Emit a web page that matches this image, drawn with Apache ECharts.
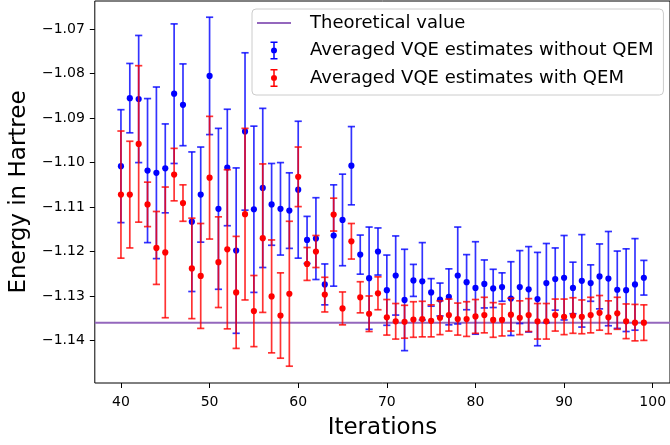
<!DOCTYPE html>
<html><head><meta charset="utf-8">
<script src="https://cdn.jsdelivr.net/npm/echarts@6/dist/echarts.min.js"></script>
<style>html,body{margin:0;padding:0;background:#fff}#c{width:670px;height:445px}</style>
</head><body><div id="c"></div>
<script>
const iterations = [40,41,42,43,44,45,46,47,48,49,50,51,52,53,54,55,56,57,58,59,60,61,62,63,64,65,66,67,68,69,70,71,72,73,74,75,76,77,78,79,80,81,82,83,84,85,86,87,88,89,90,91,92,93,94,95,96,97,98,99];
const blueMean = [
 -1.1008,-1.0855,-1.0857,-1.1018,-1.1023,-1.1013,-1.0845,-1.0870,-1.1133,-1.1072,
 -1.0805,-1.1104,-1.1011,-1.1198,-1.0930,-1.1105,-1.1057,-1.1094,-1.1104,-1.1108,
 -1.1061,-1.1174,-1.1171,-1.1274,-1.1164,-1.1129,-1.1007,-1.1207,-1.1260,-1.1200,
 -1.1287,-1.1254,-1.1309,-1.1265,-1.1267,-1.1292,-1.1308,-1.1302,-1.1254,-1.1269,
 -1.1282,-1.1273,-1.1283,-1.1280,-1.1306,-1.1280,-1.1285,-1.1307,-1.1271,-1.1262,
 -1.1259,-1.1282,-1.1266,-1.1271,-1.1256,-1.1261,-1.1286,-1.1287,-1.1274,-1.1259];
const blueErr = [
 0.0127,0.0078,0.0143,0.0162,0.0193,0.0100,0.0157,0.0092,0.0157,0.0107,
 0.0132,0.0181,0.0131,0.0186,0.0177,0.0187,0.0179,0.0092,0.0104,0.0085,
 0.0154,0.0053,0.0092,0.0046,0.0114,0.0103,0.0088,0.0044,0.0115,0.0053,
 0.0079,0.0089,0.0114,0.0036,0.0087,0.0031,0.0037,0.0063,0.0109,0.0062,
 0.0104,0.0054,0.0043,0.0032,0.0083,0.0082,0.0096,0.0105,0.0089,0.0070,
 0.0095,0.0058,0.0104,0.0041,0.0073,0.0106,0.0087,0.0093,0.0103,0.0039];
const redMean = [
 -1.1072,-1.1072,-1.0958,-1.1094,-1.1192,-1.1202,-1.1027,-1.1091,-1.1238,-1.1255,
 -1.1034,-1.1224,-1.1195,-1.1292,-1.1116,-1.1334,-1.1170,-1.1301,-1.1344,-1.1295,
 -1.1032,-1.1228,-1.1200,-1.1297,-1.1117,-1.1328,-1.1177,-1.1303,-1.1340,-1.1294,
 -1.1348,-1.1357,-1.1358,-1.1353,-1.1352,-1.1356,-1.1349,-1.1343,-1.1352,-1.1352,
 -1.1346,-1.1343,-1.1354,-1.1354,-1.1342,-1.1349,-1.1343,-1.1357,-1.1357,-1.1343,
 -1.1347,-1.1344,-1.1347,-1.1343,-1.1338,-1.1348,-1.1339,-1.1357,-1.1360,-1.1360];
const redErr = [
 0.0143,0.0120,0.0176,0.0050,0.0082,0.0147,0.0059,0.0041,0.0113,0.0118,
 0.0138,0.0102,0.0179,0.0126,0.0193,0.0080,0.0167,0.0127,0.0096,0.0163,
 0.0067,0.0037,0.0036,0.0039,0.0037,0.0037,0.0040,0.0035,0.0040,0.0037,
 0.0040,0.0040,0.0037,0.0040,0.0040,0.0036,0.0038,0.0036,0.0036,0.0039,
 0.0038,0.0040,0.0039,0.0036,0.0037,0.0038,0.0037,0.0040,0.0040,0.0036,
 0.0040,0.0040,0.0038,0.0040,0.0039,0.0037,0.0036,0.0039,0.0041,0.0040];
const theoreticalValue = -1.1360;
const xTicks = [40,50,60,70,80,90,100];
const yTicks = [-1.14,-1.13,-1.12,-1.11,-1.10,-1.09,-1.08,-1.07];
const xRange = [37.05, 101.95];
const yRange = [-1.14958, -1.06365];
const seriesNames = ['Theoretical value','Averaged VQE estimates without QEM','Averaged VQE estimates with QEM'];

const FONT = 'DejaVu Sans';
const chart = echarts.init(document.getElementById('c'), null, {renderer:'canvas'});
const errIcon = 'path://M0,9M34,9M16.25,0H17.75V18H16.25Z M13.5,0H20.5V1.5H13.5Z M13.5,16.5H20.5V18H13.5Z M20,9A3,3,0,1,1,14,9A3,3,0,1,1,20,9Z';
const lineIcon = 'path://M0,0M34,18M0,8H34V10H0Z';

function errSeries(name, color, means, errs, z) {
  const data = iterations.map((x, i) => [x, means[i], errs[i]]);
  return {
    type: 'custom', name, z, data, animation: false,
    itemStyle: {color},
    encode: {x: 0, y: 1},
    renderItem(params, api) {
      const x = api.value(0), m = api.value(1), e = api.value(2);
      const t = api.coord([x, m + e]), b = api.coord([x, m - e]), c = api.coord([x, m]);
      const cw = 3.6;
      const ls = {stroke: color, lineWidth: 1.7, opacity: 0.8};
      return {type: 'group', children: [
        {type: 'line', shape: {x1: t[0], y1: t[1], x2: b[0], y2: b[1]}, style: ls},
        {type: 'line', shape: {x1: t[0] - cw, y1: t[1], x2: t[0] + cw, y2: t[1]}, style: ls},
        {type: 'line', shape: {x1: b[0] - cw, y1: b[1], x2: b[0] + cw, y2: b[1]}, style: ls},
        {type: 'circle', shape: {cx: c[0], cy: c[1], r: 3.1}, style: {fill: color}}
      ]};
    }
  };
}

const option = {
  animation: false,
  backgroundColor: '#fff',
  grid: {left: 93, top: 1, width: 580, height: 383, show: true, borderColor: '#000', borderWidth: 1, backgroundColor: 'transparent'},
  legend: {
    orient: 'vertical', left: 252, top: 9,
    padding: [5, 10, 8, 5],
    itemWidth: 34, itemHeight: 18, itemGap: 9.5,
    backgroundColor: 'rgba(255,255,255,0.8)', borderColor: '#cccccc', borderWidth: 1, borderRadius: 4,
    textStyle: {fontFamily: FONT, fontSize: 18, color: '#000', padding: [0, 0, 0, 14]},
    data: [
      {name: seriesNames[0], icon: lineIcon},
      {name: seriesNames[1], icon: errIcon},
      {name: seriesNames[2], icon: errIcon}
    ]
  },
  xAxis: {
    type: 'value', min: xRange[0], max: xRange[1],
    name: 'Iterations', nameLocation: 'middle', nameGap: 34,
    nameTextStyle: {fontFamily: FONT, fontSize: 23, color: '#000'},
    axisLine: {show: false},
    splitLine: {show: false},
    axisTick: {show: true, length: 5, lineStyle: {color: '#000', width: 1}, customValues: xTicks},
    axisLabel: {fontFamily: FONT, fontSize: 14, color: '#000', margin: 12, customValues: xTicks,
      formatter: v => String(v)}
  },
  yAxis: {
    type: 'value', min: yRange[0], max: yRange[1],
    name: 'Energy in Hartree', nameLocation: 'middle', nameGap: 56,
    nameTextStyle: {fontFamily: FONT, fontSize: 23, color: '#000'},
    axisLine: {show: false},
    splitLine: {show: false},
    axisTick: {show: true, length: 5, lineStyle: {color: '#000', width: 1}, customValues: yTicks},
    axisLabel: {fontFamily: FONT, fontSize: 14, color: '#000', margin: 10, customValues: yTicks,
      formatter: v => (v < 0 ? '\u2212' : '') + Math.abs(v).toFixed(2)}
  },
  series: [
    {
      type: 'line', name: seriesNames[0], z: 1,
      data: [[xRange[0], theoreticalValue], [xRange[1], theoreticalValue]],
      symbol: 'none', lineStyle: {color: '#9467bd', width: 2}, itemStyle: {color: '#9467bd'},
      silent: true
    },
    errSeries(seriesNames[1], '#0000ff', blueMean, blueErr, 2),
    errSeries(seriesNames[2], '#ff0000', redMean, redErr, 3)
  ]
};
chart.setOption(option);
</script>
</body></html>
